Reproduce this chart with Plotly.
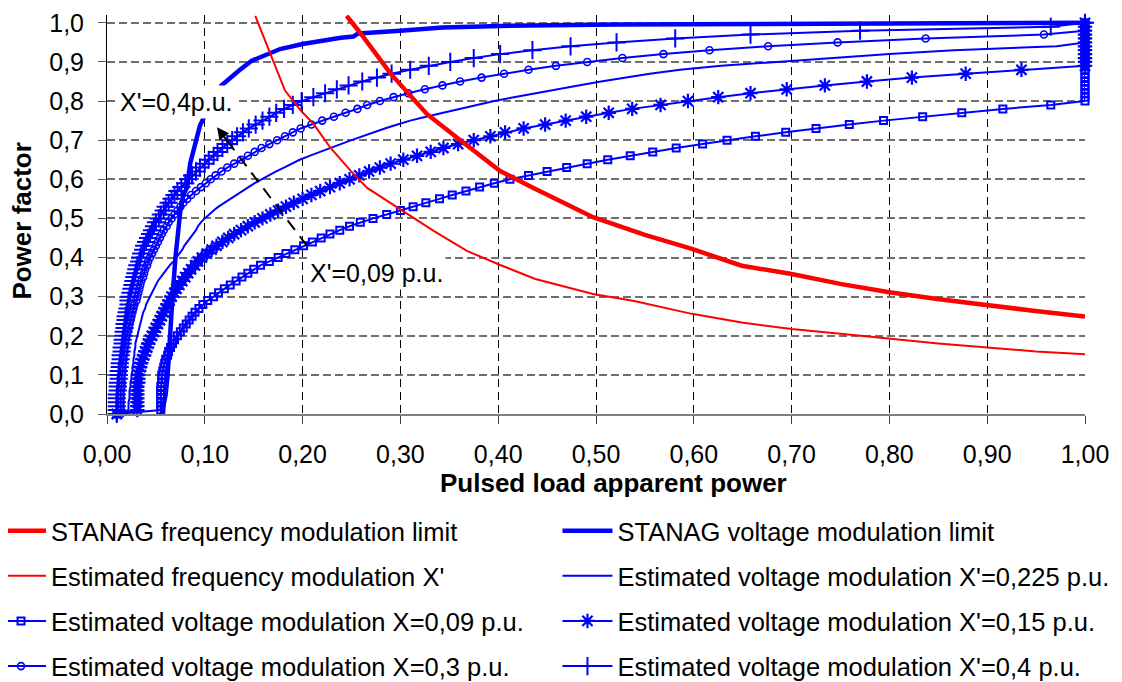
import plotly.graph_objects as go

# ---------------- data ----------------
pf_levels = [0.00, 0.01, 0.02, 0.03, 0.04, 0.05, 0.06, 0.07, 0.08, 0.09,
             0.10, 0.11, 0.12, 0.13, 0.14, 0.15, 0.16, 0.17, 0.18, 0.19,
             0.20, 0.21, 0.22, 0.23, 0.24, 0.25, 0.26, 0.27, 0.28, 0.29,
             0.30, 0.31, 0.32, 0.33, 0.34, 0.35, 0.36, 0.37, 0.38, 0.39,
             0.40, 0.41, 0.42, 0.43, 0.44, 0.45, 0.46, 0.47, 0.48, 0.49,
             0.50, 0.51, 0.52, 0.53, 0.54, 0.55, 0.56, 0.57, 0.58, 0.59,
             0.60, 0.61, 0.62, 0.63, 0.64, 0.65, 0.66, 0.67, 0.68, 0.69,
             0.70, 0.71, 0.72, 0.73, 0.74, 0.75, 0.76, 0.77, 0.78, 0.79,
             0.80, 0.81, 0.82, 0.83, 0.84, 0.85, 0.86, 0.87, 0.88, 0.89,
             0.90, 0.91, 0.92, 0.93, 0.94, 0.95, 0.96, 0.97, 0.98, 0.99,
             1.00]

# pulsed load apparent power for each power-factor level
s_x009 = [0.010, 0.055, 0.055, 0.055, 0.055, 0.055, 0.055, 0.055, 0.056, 0.056,
          0.056, 0.057, 0.058, 0.059, 0.060, 0.062, 0.063, 0.065, 0.067, 0.069,
          0.072, 0.075, 0.078, 0.081, 0.084, 0.087, 0.090, 0.094, 0.098, 0.103,
          0.109, 0.114, 0.120, 0.126, 0.132, 0.138, 0.144, 0.150, 0.157, 0.166,
          0.175, 0.183, 0.192, 0.201, 0.210, 0.219, 0.228, 0.238, 0.248, 0.259,
          0.272, 0.286, 0.300, 0.313, 0.326, 0.340, 0.353, 0.367, 0.381, 0.396,
          0.412, 0.431, 0.450, 0.470, 0.491, 0.512, 0.535, 0.558, 0.582, 0.609,
          0.634, 0.663, 0.694, 0.725, 0.759, 0.794, 0.834, 0.874, 0.916, 0.965,
          1.000, 1.000, 1.000, 1.000, 1.000, 1.000, 1.000, 1.000, 1.000, 1.000,
          1.000, 1.000, 1.000, 1.000, 1.000, 1.000, 1.000, 1.000, 1.000, 1.000,
          1.000]

s_x015 = [0.010, 0.031, 0.031, 0.031, 0.031, 0.031, 0.031, 0.031, 0.032, 0.032,
          0.032, 0.033, 0.034, 0.035, 0.036, 0.038, 0.039, 0.041, 0.042, 0.044,
          0.046, 0.048, 0.050, 0.052, 0.054, 0.056, 0.058, 0.060, 0.062, 0.064,
          0.066, 0.069, 0.071, 0.074, 0.077, 0.080, 0.083, 0.086, 0.090, 0.093,
          0.097, 0.102, 0.107, 0.112, 0.118, 0.124, 0.130, 0.137, 0.144, 0.151,
          0.159, 0.167, 0.175, 0.183, 0.191, 0.200, 0.209, 0.218, 0.228, 0.238,
          0.248, 0.258, 0.268, 0.279, 0.290, 0.303, 0.317, 0.331, 0.344, 0.359,
          0.375, 0.392, 0.407, 0.426, 0.448, 0.469, 0.490, 0.513, 0.537, 0.566,
          0.594, 0.625, 0.658, 0.695, 0.734, 0.777, 0.823, 0.878, 0.935, 1.000,
          1.000, 1.000, 1.000, 1.000, 1.000, 1.000, 1.000, 1.000, 1.000, 1.000,
          1.000]

s_x0225 = [0.010, 0.022, 0.022, 0.022, 0.023, 0.023, 0.023, 0.024, 0.024, 0.025,
           0.025, 0.026, 0.026, 0.027, 0.027, 0.028, 0.028, 0.029, 0.029, 0.030,
           0.031, 0.032, 0.033, 0.034, 0.035, 0.036, 0.037, 0.039, 0.040, 0.042,
           0.044, 0.046, 0.048, 0.050, 0.052, 0.055, 0.058, 0.061, 0.064, 0.068,
           0.071, 0.074, 0.077, 0.079, 0.082, 0.085, 0.088, 0.091, 0.093, 0.096,
           0.100, 0.104, 0.109, 0.114, 0.120, 0.126, 0.132, 0.138, 0.145, 0.151,
           0.158, 0.165, 0.173, 0.181, 0.189, 0.197, 0.207, 0.217, 0.228, 0.239,
           0.250, 0.261, 0.272, 0.284, 0.297, 0.310, 0.326, 0.343, 0.360, 0.378,
           0.396, 0.416, 0.437, 0.459, 0.482, 0.505, 0.528, 0.555, 0.586, 0.628,
           0.685, 0.740, 0.800, 0.866, 0.971, 1.000, 1.000, 1.000, 1.000, 1.000,
           1.000]

s_x03 = [0.014, 0.014, 0.014, 0.014, 0.014, 0.014, 0.014, 0.015, 0.015, 0.015,
         0.015, 0.016, 0.016, 0.016, 0.017, 0.017, 0.018, 0.018, 0.019, 0.019,
         0.020, 0.021, 0.022, 0.023, 0.024, 0.025, 0.026, 0.027, 0.028, 0.030,
         0.031, 0.032, 0.033, 0.034, 0.035, 0.037, 0.038, 0.039, 0.041, 0.042,
         0.044, 0.046, 0.048, 0.050, 0.052, 0.054, 0.056, 0.058, 0.061, 0.063,
         0.066, 0.069, 0.072, 0.075, 0.078, 0.082, 0.086, 0.091, 0.096, 0.101,
         0.106, 0.111, 0.117, 0.123, 0.130, 0.137, 0.144, 0.151, 0.158, 0.166,
         0.174, 0.182, 0.190, 0.198, 0.209, 0.220, 0.232, 0.244, 0.256, 0.266,
         0.279, 0.293, 0.308, 0.325, 0.343, 0.361, 0.383, 0.406, 0.431, 0.459,
         0.491, 0.527, 0.569, 0.616, 0.676, 0.747, 0.837, 0.958, 1.000, 1.000,
         1.000]

s_x04 = [0.010, 0.010, 0.010, 0.010, 0.010, 0.010, 0.011, 0.011, 0.011, 0.012,
         0.012, 0.012, 0.013, 0.013, 0.014, 0.014, 0.015, 0.015, 0.016, 0.016,
         0.017, 0.017, 0.018, 0.018, 0.019, 0.019, 0.020, 0.021, 0.022, 0.022,
         0.023, 0.024, 0.025, 0.026, 0.027, 0.028, 0.029, 0.030, 0.031, 0.033,
         0.034, 0.035, 0.037, 0.038, 0.040, 0.042, 0.044, 0.046, 0.048, 0.050,
         0.053, 0.055, 0.058, 0.060, 0.063, 0.066, 0.069, 0.072, 0.076, 0.080,
         0.083, 0.087, 0.091, 0.095, 0.100, 0.104, 0.109, 0.113, 0.118, 0.123,
         0.128, 0.133, 0.139, 0.145, 0.152, 0.159, 0.166, 0.173, 0.181, 0.190,
         0.199, 0.211, 0.223, 0.235, 0.247, 0.261, 0.276, 0.291, 0.310, 0.329,
         0.351, 0.375, 0.402, 0.435, 0.474, 0.521, 0.581, 0.658, 0.770, 0.965,
         1.000]

# STANAG voltage modulation limit
stanag_v_x = [0.056, 0.058, 0.060, 0.062, 0.064, 0.067, 0.070, 0.072, 0.075, 0.078,
              0.082, 0.085, 0.090, 0.095, 0.105, 0.117, 0.135, 0.148, 0.177, 0.200,
              0.239, 0.252, 0.257, 0.279, 0.300, 0.343, 0.402, 0.520, 0.600, 0.800,
              1.000]
stanag_v_y = [0.000, 0.020, 0.050, 0.100, 0.200, 0.300, 0.400, 0.450, 0.520, 0.560,
              0.580, 0.640, 0.690, 0.737, 0.790, 0.840, 0.878, 0.903, 0.933, 0.946,
              0.962, 0.965, 0.973, 0.978, 0.980, 0.988, 0.992, 0.996, 0.997, 0.998,
              1.000]

# STANAG frequency modulation limit
stanag_f_x = [0.245, 0.259, 0.290, 0.327, 0.358, 0.402, 0.436, 0.497, 0.550, 0.598,
              0.649, 0.700, 0.751, 0.800, 0.849, 0.900, 0.947, 1.000]
stanag_f_y = [1.018, 0.974, 0.870, 0.767, 0.706, 0.621, 0.578, 0.503, 0.458, 0.422,
              0.379, 0.358, 0.332, 0.311, 0.294, 0.277, 0.264, 0.249]

# Estimated frequency modulation X'
est_f_x = [0.1516, 0.170, 0.182, 0.198, 0.211, 0.228, 0.249, 0.266, 0.300, 0.334,
           0.368, 0.402, 0.438, 0.497, 0.539, 0.598, 0.649, 0.700, 0.750, 0.800,
           0.850, 0.900, 0.950, 1.000]
est_f_y = [1.018, 0.904, 0.827, 0.776, 0.742, 0.682, 0.622, 0.578, 0.522, 0.468,
           0.417, 0.381, 0.345, 0.307, 0.289, 0.256, 0.234, 0.217, 0.205, 0.193,
           0.180, 0.170, 0.160, 0.153]

x_ticks = [0.0, 0.1, 0.2, 0.3, 0.4, 0.5, 0.6, 0.7, 0.8, 0.9, 1.0]
y_ticks = [0.0, 0.1, 0.2, 0.3, 0.4, 0.5, 0.6, 0.7, 0.8, 0.9, 1.0]

# annotation anchors (data coordinates)
label_hi = ("X'=0,4p.u.", 0.0707, 0.797)
label_lo = ("X'=0,09 p.u.", 0.2754, 0.361)
arrow_tail = (0.2045, 0.430)
arrow_head = (0.1125, 0.733)

# ---------------- figure ----------------
FONT = "Liberation Sans, Arial, sans-serif"
BLUE = "#0000FF"
RED = "#FF0000"

fig = go.Figure()

# blue family first (red lines are drawn on top in the reference)
fig.add_trace(go.Scatter(
    x=stanag_v_x, y=stanag_v_y, mode="lines", name="STANAG voltage modulation limit",
    line=dict(color=BLUE, width=4.5), legend="legend2", legendrank=1,
    legendgroup="g_sv"))

fig.add_trace(go.Scatter(
    x=s_x0225, y=pf_levels, mode="lines", name="Estimated voltage modulation X'=0,225 p.u.",
    line=dict(color=BLUE, width=2), legend="legend2", legendrank=2,
    legendgroup="g_0225"))

fig.add_trace(go.Scatter(
    x=s_x015, y=pf_levels, mode="lines+markers", name="Estimated voltage modulation X'=0,15 p.u.",
    line=dict(color=BLUE, width=2),
    marker=dict(symbol="asterisk-open", size=12, color=BLUE, line=dict(color=BLUE, width=2.2)),
    cliponaxis=False, legend="legend2", legendrank=3, legendgroup="g_015"))

fig.add_trace(go.Scatter(
    x=s_x04, y=pf_levels, mode="lines+markers", name="Estimated voltage modulation X'=0,4 p.u.",
    line=dict(color=BLUE, width=2),
    marker=dict(symbol="cross-thin-open", size=13, color=BLUE, line=dict(color=BLUE, width=2)),
    cliponaxis=False, legend="legend2", legendrank=4, legendgroup="g_04"))

fig.add_trace(go.Scatter(
    x=s_x009, y=pf_levels, mode="lines+markers", name="Estimated voltage modulation X=0,09 p.u.",
    line=dict(color=BLUE, width=2),
    marker=dict(symbol="square-open", size=7, color=BLUE, line=dict(color=BLUE, width=2)),
    cliponaxis=False, legend="legend", legendrank=3, legendgroup="g_009"))

fig.add_trace(go.Scatter(
    x=s_x03, y=pf_levels, mode="lines+markers", name="Estimated voltage modulation X=0,3 p.u.",
    line=dict(color=BLUE, width=2),
    marker=dict(symbol="circle-open", size=7, color=BLUE, line=dict(color=BLUE, width=1.6)),
    cliponaxis=False, legend="legend", legendrank=4, legendgroup="g_03"))

fig.add_trace(go.Scatter(
    x=est_f_x, y=est_f_y, mode="lines", name="Estimated frequency modulation X'",
    line=dict(color=RED, width=2), legend="legend", legendrank=2, legendgroup="g_ef"))

fig.add_trace(go.Scatter(
    x=stanag_f_x, y=stanag_f_y, mode="lines", name="STANAG frequency modulation limit",
    line=dict(color=RED, width=4.5), legend="legend", legendrank=1, legendgroup="g_sf"))

# dashed arrow between the X' labels
fig.add_shape(type="line", xref="x", yref="y",
              x0=arrow_tail[0], y0=arrow_tail[1], x1=arrow_head[0] + 0.006, y1=arrow_head[1] - 0.02,
              line=dict(color="black", width=2, dash="12px,8px"))
fig.add_annotation(x=arrow_head[0], y=arrow_head[1], xref="x", yref="y",
                   ax=arrow_head[0] + 0.012, ay=arrow_head[1] - 0.04, axref="x", ayref="y",
                   text="", showarrow=True, arrowhead=2, arrowsize=1.2, arrowwidth=2,
                   arrowcolor="black")

for txt, xx, yy in (label_hi, label_lo):
    fig.add_annotation(x=xx, y=yy, xref="x", yref="y", text=txt, showarrow=False,
                       font=dict(family=FONT, size=25, color="black"),
                       bgcolor="white", borderpad=2, xanchor="center", yanchor="middle")

# axis titles
fig.add_annotation(x=0.5174, y=-0.1730, xref="paper", yref="paper",
                   text="<b>Pulsed load apparent power</b>", showarrow=False,
                   font=dict(family=FONT, size=26, color="black"),
                   xanchor="center", yanchor="middle")
fig.add_annotation(x=-0.0869, y=0.4847, xref="paper", yref="paper",
                   text="<b>Power factor</b>", showarrow=False, textangle=-90,
                   font=dict(family=FONT, size=26, color="black"),
                   xanchor="center", yanchor="middle")

# the page body adds an 8 px margin, so the figure is 8 px smaller on each axis
fig.update_layout(
    width=1114, height=674,
    margin=dict(l=99, r=37, t=7, b=268, autoexpand=False),
    paper_bgcolor="white", plot_bgcolor="white",
    separators=", ",
    font=dict(family=FONT, size=25, color="black"),
    showlegend=True,
    legend=dict(x=-0.1186, y=-0.2345, xanchor="left", yanchor="top",
                orientation="v", tracegroupgap=9, itemwidth=50,
                font=dict(family=FONT, size=25.5, color="black"),
                bgcolor="rgba(0,0,0,0)"),
    legend2=dict(x=0.4606, y=-0.2345, xanchor="left", yanchor="top",
                 orientation="v", tracegroupgap=9, itemwidth=50,
                 font=dict(family=FONT, size=25.5, color="black"),
                 bgcolor="rgba(0,0,0,0)"),
)

fig.update_xaxes(
    range=[0, 1.0], tickvals=x_ticks, tickformat=".2f",
    showgrid=True, gridcolor="black", gridwidth=1, griddash="8px,5px",
    showline=True, linecolor="#808080", linewidth=2,
    ticks="outside", ticklen=8, tickcolor="#404040", tickwidth=1,
    ticklabelstandoff=9, zeroline=False,
    tickfont=dict(family=FONT, size=25, color="black"))

fig.update_yaxes(
    range=[0, 1.02], tickvals=y_ticks, tickformat=".1f",
    showgrid=True, gridcolor="#707070", gridwidth=1.5, griddash="8px,4px",
    showline=True, linecolor="black", linewidth=1,
    ticks="outside", ticklen=8, tickcolor="#606060", tickwidth=1,
    ticklabelstandoff=9, zeroline=False,
    tickfont=dict(family=FONT, size=25, color="black"))

fig.write_html("out.html")
